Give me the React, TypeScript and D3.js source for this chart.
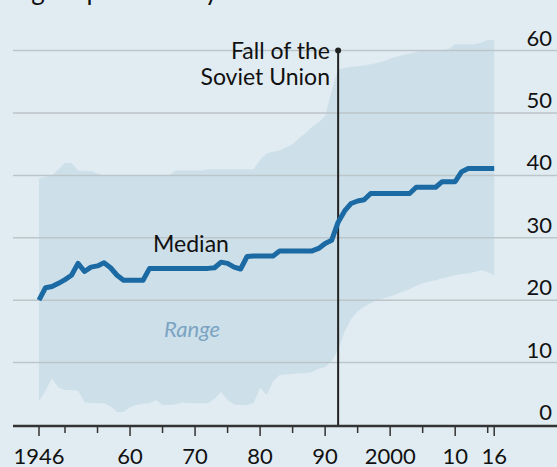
import React from "react";
import * as d3 from "d3";

const years: number[] = d3.range(1946, 2017);

const medianValues: number[] = [
  20, 22, 22.2, 22.7, 23.3, 24, 25.9, 24.6, 25.3, 25.5, // 1946-1955
  26, 25.2, 24, 23.2, 23.2, 23.2, 23.2, 25.1, 25.1, 25.1, // 1956-1965
  25.1, 25.1, 25.1, 25.1, 25.1, 25.1, 25.1, 25.2, 26.1, 25.9, // 1966-1975
  25.3, 25, 27, 27.1, 27.1, 27.1, 27.1, 27.9, 27.9, 27.9, // 1976-1985
  27.9, 27.9, 27.9, 28.3, 29.1, 29.6, 32.5, 34.3, 35.5, 35.9, // 1986-1995
  36.1, 37.1, 37.1, 37.1, 37.1, 37.1, 37.1, 37.1, 38.1, 38.1, // 1996-2005
  38.1, 38.1, 39, 39, 39, 40.6, 41.1, 41.1, 41.1, 41.1, // 2006-2015
  41.1, // 2016
];

const rangeMax: number[] = [
  39.5, 39.8, 40, 41, 42, 42, 40.8, 40.7, 40.7, 40.3, // 1946-1955
  40, 40, 40, 40, 40, 40, 40, 40, 40, 40, // 1956-1965
  40, 40.8, 40.8, 40.8, 40.8, 40.8, 41, 41, 41, 41, // 1966-1975
  41, 41, 41, 41, 42.5, 43.5, 43.8, 44, 44.5, 45, // 1976-1985
  46, 46.8, 47.8, 48.5, 49.5, 53.5, 57, 57.2, 57.4, 57.5, // 1986-1995
  57.6, 57.8, 58, 58.3, 58.7, 59, 59.3, 59.5, 59.8, 60, // 1996-2005
  60, 60, 60, 60.3, 61, 61, 61, 61, 61.3, 61.7, // 2006-2015
  61.7, // 2016
];

const rangeMin: number[] = [
  3.8, 5.5, 7.5, 6, 5.6, 5.6, 5.5, 3.7, 3.5, 3.5, // 1946-1955
  3.5, 3, 2.1, 2.1, 2.9, 3.2, 3.4, 3.5, 4, 3.2, // 1956-1965
  3.2, 3.3, 3.6, 3.5, 3.5, 3.5, 3.5, 4.2, 5.3, 4, // 1966-1975
  3.3, 3.2, 3.2, 3.5, 6, 4.8, 7, 8, 8.1, 8.2, // 1976-1985
  8.3, 8.3, 8.5, 9, 9.3, 10.2, 12, 15, 17, 18.2, // 1986-1995
  19, 19.5, 20, 20.3, 20.6, 21, 21.4, 21.8, 22.3, 22.7, // 1996-2005
  23, 23.2, 23.5, 23.7, 24, 24.2, 24.3, 24.5, 24.8, 24.5, // 2006-2015
  24, // 2016
];

const yTicks: number[] = [0, 10, 20, 30, 40, 50, 60];
const xTicks: number[] = d3.range(1950, 2016, 5).concat([1946, 2016]);
const xLabels: { year: number; label: string }[] = [
  { year: 1946, label: "1946" },
  { year: 1960, label: "60" },
  { year: 1970, label: "70" },
  { year: 1980, label: "80" },
  { year: 1990, label: "90" },
  { year: 2000, label: "2000" },
  { year: 2010, label: "10" },
  { year: 2016, label: "16" },
];
const eventYear = 1992;
const titleText = "Rights per country";

export default function App() {
  const W = 557;
  const H = 467;
  const x = d3.scaleLinear().domain([1946, 2016]).range([39, 494.2]);
  const y = d3.scaleLinear().domain([0, 60]).range([425, 50.6]);

  const rows = years.map((yr, i) => ({
    yr,
    med: medianValues[i],
    lo: rangeMin[i],
    hi: rangeMax[i],
  }));

  const area = d3
    .area<any>()
    .x((d) => x(d.yr))
    .y0((d) => y(d.lo))
    .y1((d) => y(d.hi));
  const line = d3
    .line<any>()
    .x((d) => x(d.yr))
    .y((d) => y(d.med));

  const font = "Lato, 'Noto Sans', sans-serif";
  const axisY = 426;

  return (
    <div style={{ position: "fixed", left: 0, top: 0 }}>
      <svg width={W} height={H} style={{ display: "block" }} fontFamily={font}>
        <rect x={0} y={0} width={W} height={H} fill="#e1ecf2" />
        <text x={9} y={0} fontSize={26} fill="#111">
          {titleText}
        </text>
        <path d={area(rows) || ""} fill="#cddfe9" />
        {yTicks
          .filter((v) => v > 0)
          .map((v) => (
            <line
              key={"g" + v}
              x1={13}
              x2={W}
              y1={y(v)}
              y2={y(v)}
              stroke="#bcc5ca"
              strokeWidth={1.5}
            />
          ))}
        {yTicks.map((v) => (
          <text
            key={"yl" + v}
            x={552}
            y={y(v) - 5}
            fontSize={22}
            textAnchor="end"
            fill="#111"
          >
            {v}
          </text>
        ))}
        <line
          x1={x(eventYear)}
          x2={x(eventYear)}
          y1={y(60)}
          y2={axisY}
          stroke="#222"
          strokeWidth={2}
        />
        <circle cx={x(eventYear)} cy={y(60)} r={3} fill="#222" />
        <path
          d={line(rows) || ""}
          fill="none"
          stroke="#1b6aa3"
          strokeWidth={5}
          strokeLinejoin="round"
          strokeLinecap="butt"
        />
        <line x1={13} x2={W} y1={axisY} y2={axisY} stroke="#333" strokeWidth={2.5} />
        {xTicks.map((yr) => {
          const long = xLabels.some((l) => l.year === yr);
          return (
            <line
              key={"t" + yr}
              x1={x(yr)}
              x2={x(yr)}
              y1={axisY}
              y2={axisY + (long ? 10 : 7)}
              stroke="#333"
              strokeWidth={1.5}
            />
          );
        })}
        {xLabels.map((l) => (
          <text
            key={"xl" + l.year}
            x={x(l.year)}
            y={464}
            fontSize={22}
            textAnchor="middle"
            fill="#111"
          >
            {l.label}
          </text>
        ))}
        <text x={330} y={59} fontSize={23} textAnchor="end" fill="#111">
          Fall of the
        </text>
        <text x={330} y={85} fontSize={23} textAnchor="end" fill="#111">
          Soviet Union
        </text>
        <text x={191} y={252} fontSize={23} textAnchor="middle" fill="#111">
          Median
        </text>
        <text
          x={192}
          y={337}
          fontSize={22}
          fontStyle="italic"
          textAnchor="middle"
          fill="#7ba4c3"
        >
          Range
        </text>
      </svg>
    </div>
  );
}
